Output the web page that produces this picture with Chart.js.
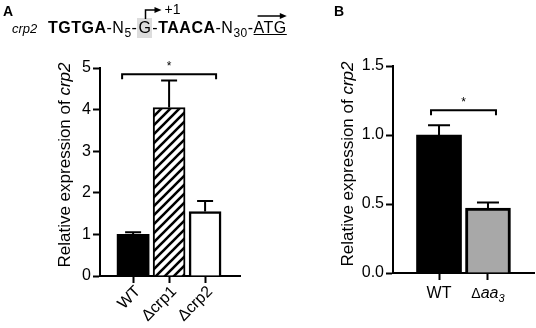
<!DOCTYPE HTML>
<html lang="en">
<head>
    <meta charset="UTF-8">
    <title>crp2 expression</title>
    <script src="https://cdn.jsdelivr.net/npm/chart.js"></script>
    <style>
        body {
            margin: 0;
            padding: 0;
            background: #fff;
            font-family: Arial, "Liberation Sans", sans-serif;
            color: #000;
        }
        #wrap {
            position: relative;
            width: 536px;
            height: 328px;
            overflow: hidden;
        }
        canvas { position: absolute; top: 0; }
        .lbl { position: absolute; white-space: nowrap; line-height: 1; }
        .sub { font-size: 12px; position: relative; top: 4px; }
        .gbox { background: #dcdcdc; padding: 1px 1px 2px 1px; }
    </style>
</head>
<body>
<div id="wrap">
    <canvas id="chartA" width="250" height="328" style="left:0"></canvas>
    <canvas id="chartB" width="246" height="328" style="left:290px"></canvas>

    <!-- шапка панели A -->
    <div class="lbl" style="left:3px; top:4px; font-weight:bold; font-size:14px">A</div>
    <div class="lbl" style="left:334px; top:4px; font-weight:bold; font-size:14px">B</div>
    <div class="lbl" style="left:12px; top:22px; font-style:italic; font-size:13px">crp2</div>
    <div class="lbl" style="left:48px; top:20px; font-size:16px; letter-spacing:0.5px">
        <b>TGTGA</b>-N<span class="sub">5</span>-<span class="gbox" id="gb">G</span>-<b>TAACA</b>-N<span class="sub">30</span>-<u id="atg">ATG</u>
    </div>
    <div class="lbl" id="plus1" style="left:163px; top:2px; font-size:14px">+1</div>
    <svg width="536" height="40" style="position:absolute; left:0; top:0">
        <polyline id="bent" points="143,19 143,10 154,10" fill="none" stroke="#000" stroke-width="1.5"/>
        <polygon id="bentHead" points="153,7 160,10 153,13" fill="#000"/>
        <line id="atgLine" x1="256" y1="16" x2="281" y2="16" stroke="#000" stroke-width="1.5"/>
        <polygon id="atgHead" points="280,13 288,16 280,19" fill="#000"/>
    </svg>
</div>

<script>
    // Данные панели A
    const aGroups = ['WT', 'Δcrp1', 'Δcrp2'];
    const aMeans = [1.0, 4.05, 1.55];
    const aErrors = [0.05, 0.65, 0.25];
    const aTicks = [0, 1, 2, 3, 4, 5];
    const aSig = 4.85;

    // Данные панели B
    const bGroups = ['WT', 'Δaa3'];
    const bMeans = [1.0, 0.47];
    const bErrors = [0.07, 0.04];
    const bTicks = [0, 0.5, 1.0, 1.5];
    const bSig = 1.18;

    const FONT = 'Arial, "Liberation Sans", sans-serif';

    // стрелки над последовательностью
    (function () {
        const g = document.getElementById('gb').getBoundingClientRect();
        const gx = Math.round((g.left + g.right) / 2) + 0.5;
        document.getElementById('bent').setAttribute('points', gx + ',' + (g.top + 1) + ' ' + gx + ',10 ' + (gx + 10) + ',10');
        document.getElementById('bentHead').setAttribute('points', (gx + 9) + ',7 ' + (gx + 16) + ',10 ' + (gx + 9) + ',13');
        document.getElementById('plus1').style.left = (gx + 19) + 'px';
        const a = document.getElementById('atg').getBoundingClientRect();
        const ax = a.left + 4, bx = a.right;
        document.getElementById('atgLine').setAttribute('x1', ax);
        document.getElementById('atgLine').setAttribute('x2', bx - 6);
        document.getElementById('atgHead').setAttribute('points', (bx - 7) + ',13 ' + bx + ',16 ' + (bx - 7) + ',19');
    })();

    // штриховка для Δcrp1
    function makeHatch() {
        const c = document.createElement('canvas');
        c.width = 9; c.height = 9;
        const g = c.getContext('2d');
        g.fillStyle = '#fff';
        g.fillRect(0, 0, 9, 9);
        g.strokeStyle = '#000';
        g.lineWidth = 2.6;
        g.beginPath();
        g.moveTo(-2, 11); g.lineTo(11, -2);
        g.moveTo(-11, 11); g.lineTo(2, -2);
        g.moveTo(7, 11); g.lineTo(20, -2);
        g.stroke();
        return document.createElement('canvas').getContext('2d').createPattern(c, 'repeat');
    }

    // планки погрешностей, скобка значимости, подписи
    const extrasPlugin = {
        id: 'extras',
        afterDatasetsDraw(chart, args, o) {
            const ctx = chart.ctx;
            const x = chart.scales.x, y = chart.scales.y;
            ctx.save();
            ctx.strokeStyle = '#000';
            ctx.fillStyle = '#000';
            ctx.lineWidth = 2;
            o.means.forEach(function (m, i) {
                const px = x.getPixelForValue(i);
                const top = y.getPixelForValue(m + o.errors[i]);
                ctx.beginPath();
                ctx.moveTo(px, y.getPixelForValue(m));
                ctx.lineTo(px, top);
                ctx.moveTo(px - o.cap / 2, top);
                ctx.lineTo(px + o.cap / 2, top);
                ctx.stroke();
            });
            // скобка
            const sy = y.getPixelForValue(o.sig);
            const x1 = x.getPixelForValue(0) - o.bracketExt;
            const x2 = x.getPixelForValue(o.means.length - 1) + o.bracketExt;
            ctx.beginPath();
            ctx.moveTo(x1, sy + 5); ctx.lineTo(x1, sy); ctx.lineTo(x2, sy); ctx.lineTo(x2, sy + 5);
            ctx.stroke();
            ctx.font = '12px ' + FONT;
            ctx.textAlign = 'center';
            ctx.textBaseline = 'alphabetic';
            ctx.fillText('*', (x1 + x2) / 2, sy - 4);

            // подписи категорий
            o.groups.forEach(function (g, i) {
                const px = x.getPixelForValue(i);
                const by = chart.chartArea.bottom;
                if (o.rotate) {
                    ctx.save();
                    ctx.translate(px + 5, by + 13);
                    ctx.rotate(-Math.PI / 4);
                    ctx.textAlign = 'right';
                    ctx.textBaseline = 'middle';
                    ctx.font = '16px ' + FONT;
                    ctx.fillText(g, 0, 0);
                    ctx.restore();
                } else if (g.indexOf('aa') > 0) {
                    ctx.textBaseline = 'alphabetic';
                    ctx.textAlign = 'left';
                    ctx.font = '14px ' + FONT;
                    const w1 = ctx.measureText('Δ').width;
                    ctx.font = 'italic 16px ' + FONT;
                    const w2 = ctx.measureText('aa').width;
                    ctx.font = 'italic 11px ' + FONT;
                    const w3 = ctx.measureText('3').width;
                    let sx = px - (w1 + w2 + w3) / 2;
                    const base = by + 25;
                    ctx.font = '14px ' + FONT;
                    ctx.fillText('Δ', sx, base);
                    ctx.font = 'italic 16px ' + FONT;
                    ctx.fillText('aa', sx + w1, base);
                    ctx.font = 'italic 11px ' + FONT;
                    ctx.fillText('3', sx + w1 + w2, base + 4);
                } else {
                    ctx.textAlign = 'center';
                    ctx.textBaseline = 'alphabetic';
                    ctx.font = '16px ' + FONT;
                    ctx.fillText(g, px, by + 25);
                }
            });

            // подпись оси Y: "Relative expression of crp2"
            ctx.save();
            ctx.translate(o.titleX, o.titleY);
            ctx.rotate(-Math.PI / 2);
            ctx.textBaseline = 'middle';
            ctx.textAlign = 'left';
            ctx.font = '17px ' + FONT;
            const t1 = 'Relative expression of ';
            const w1 = ctx.measureText(t1).width;
            ctx.font = 'italic 17px ' + FONT;
            const w2 = ctx.measureText('crp2').width;
            ctx.font = '17px ' + FONT;
            ctx.fillText(t1, -(w1 + w2) / 2, 0);
            ctx.font = 'italic 17px ' + FONT;
            ctx.fillText('crp2', -(w1 + w2) / 2 + w1, 0);
            ctx.restore();

            ctx.restore();
        }
    };

    function axisCommon() {
        return {
            border: { display: true, color: '#000', width: 2 },
            grid: { drawOnChartArea: false, color: '#000', tickColor: '#000', tickWidth: 2, tickLength: 7 }
        };
    }

    function makeChart(id, cfg) {
        const xAxis = axisCommon();
        xAxis.type = 'linear';
        xAxis.min = cfg.xMin;
        xAxis.max = cfg.xMax;
        xAxis.offset = false;
        xAxis.grid.offset = false;
        xAxis.ticks = { display: false };
        xAxis.afterBuildTicks = function (s) {
            s.ticks = cfg.groups.map(function (g, i) { return { value: i }; });
        };
        xAxis.afterFit = function (s) { s.height = cfg.xHeight; };

        const yAxis = axisCommon();
        yAxis.min = 0;
        yAxis.max = cfg.ticks[cfg.ticks.length - 1];
        yAxis.ticks = {
            color: '#000',
            padding: 2,
            font: { family: FONT, size: 16 },
            callback: function (v) { return cfg.decimals ? v.toFixed(1) : v; }
        };
        yAxis.afterBuildTicks = function (s) {
            s.ticks = cfg.ticks.map(function (v) { return { value: v }; });
        };
        yAxis.afterFit = function (s) { s.width = cfg.yWidth; };

        return new Chart(document.getElementById(id), {
            type: 'bar',
            data: {
                datasets: [{
                    data: cfg.means.map(function (m, i) { return { x: i, y: m }; }),
                    backgroundColor: cfg.colors,
                    borderColor: '#000',
                    borderWidth: cfg.borders,
                    barThickness: cfg.barThickness
                }]
            },
            options: {
                responsive: false,
                animation: false,
                layout: { padding: { left: 0, top: cfg.padTop, right: cfg.padRight, bottom: 0 } },
                plugins: {
                    legend: { display: false },
                    tooltip: { enabled: false },
                    extras: cfg.extras
                },
                scales: { x: xAxis, y: yAxis }
            },
            plugins: [extrasPlugin]
        });
    }

    makeChart('chartA', {
        groups: aGroups, means: aMeans, ticks: aTicks, decimals: false,
        xMin: -0.92, xMax: 2.97, xHeight: 52, yWidth: 100, padTop: 68, padRight: 10,
        colors: ['#000', makeHatch(), '#fff'], borders: [0, 2, 2.5], barThickness: 32,
        extras: {
            groups: aGroups, means: aMeans, errors: aErrors, sig: aSig,
            cap: 16, bracketExt: 11, rotate: true, titleX: 65, titleY: 165
        }
    });

    makeChart('chartB', {
        groups: bGroups, means: bMeans, ticks: bTicks, decimals: true,
        xMin: -0.94, xMax: 1.94, xHeight: 55, yWidth: 103, padTop: 66, padRight: 2,
        colors: ['#000', '#a8a8a8'], borders: [0, 3], barThickness: 45,
        extras: {
            groups: bGroups, means: bMeans, errors: bErrors, sig: bSig,
            cap: 22, bracketExt: 8, rotate: false, titleX: 58, titleY: 164
        }
    });
</script>
</body>
</html>
